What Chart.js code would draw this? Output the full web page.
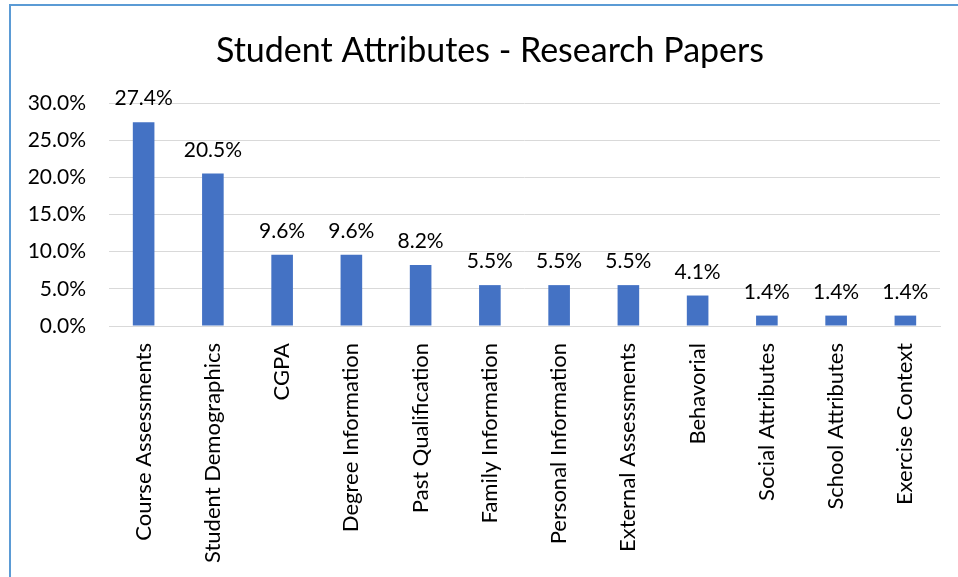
<!DOCTYPE html>
<html>
<head>
<meta charset="utf-8">
<script src="https://cdn.jsdelivr.net/npm/chart.js@4"></script>
<style>
  body { margin: 0; background: #fff; overflow: hidden; }
  #frame { position: absolute; left: 9px; top: 4px; width: 2000px; height: 2000px;
           border-left: 2px solid #5b9bd5; border-top: 2px solid #5b9bd5; }
  #chart1 { position: absolute; left: 0; top: 0; }
</style>
</head>
<body>
<div id="frame"></div>
<canvas id="chart1" width="958" height="577"></canvas>
<script>
// categorias e valores (fração dos artigos)
var categories = ['Course Assessments', 'Student Demographics', 'CGPA', 'Degree Information',
    'Past Qualification', 'Family Information', 'Personal Information', 'External Assessments',
    'Behavorial', 'Social Attributes', 'School Attributes', 'Exercise Context'];
var shares = [0.274, 0.205, 0.096, 0.096, 0.082, 0.055, 0.055, 0.055, 0.041, 0.014, 0.014, 0.014];
var yTicks = [0, 0.05, 0.10, 0.15, 0.20, 0.25, 0.30];
var chartTitle = 'Student Attributes - Research Papers';

function pct(v) { return (v * 100).toFixed(1) + '%'; }

// título e rótulos de valor acima de cada barra
var barLabels = {
    id: 'barLabels',
    afterDatasetsDraw: function (chart) {
        var ctx = chart.ctx;
        var meta = chart.getDatasetMeta(0);
        ctx.save();
        ctx.fillStyle = '#000';
        ctx.textAlign = 'center';
        ctx.textBaseline = 'alphabetic';
        ctx.font = '34px Lato';
        ctx.fillText(chartTitle, 490, 62);
        ctx.font = '21px Lato';
        meta.data.forEach(function (bar, i) {
            ctx.fillText(pct(shares[i]), bar.x, bar.y - 17);
        });
        ctx.restore();
    }
};

Chart.defaults.font.family = 'Lato';
Chart.defaults.color = '#000';

new Chart(document.getElementById('chart1').getContext('2d'), {
    type: 'bar',
    data: {
        labels: categories,
        datasets: [{
            data: shares,
            backgroundColor: '#4472c4',
            borderWidth: 0,
            barPercentage: 0.312,
            categoryPercentage: 1
        }]
    },
    options: {
        responsive: false,
        animation: false,
        layout: { padding: { left: 0, right: 18, top: 103, bottom: 0 } },
        plugins: {
            legend: { display: false },
            tooltip: { enabled: false },
            title: { display: false }
        },
        scales: {
            x: {
                grid: { display: false },
                border: { display: true, color: '#d9d9d9', width: 1 },
                ticks: { maxRotation: 90, minRotation: 90, padding: 9, font: { size: 22 }, autoSkip: false },
                afterFit: function (s) { s.height = 251; }
            },
            y: {
                min: 0,
                max: 0.3,
                afterBuildTicks: function (s) { s.ticks = yTicks.map(function (v) { return { value: v }; }); },
                grid: { color: '#d9d9d9', drawTicks: false },
                border: { display: false },
                ticks: { padding: 23, font: { size: 21 }, callback: function (v) { return pct(v); } },
                afterFit: function (s) { s.width = 109; }
            }
        }
    },
    plugins: [barLabels]
});
</script>
</body>
</html>
